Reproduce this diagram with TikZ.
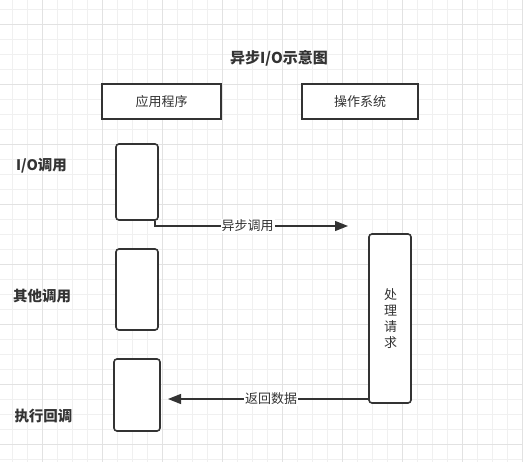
\documentclass[tikz,border=0pt]{standalone}
\usepackage{fontspec}
\newfontfamily\cjk{Noto Sans CJK SC}
\usetikzlibrary{arrows.meta}
\definecolor{ink}{HTML}{333333}
\definecolor{gridminor}{HTML}{F0F0F0}
\definecolor{gridmajor}{HTML}{E2E2E2}
\tikzset{
  px/.style={x=1pt,y=-1pt},
  header/.style={draw=ink,line width=1.6pt,fill=white,minimum width=119pt,minimum height=35pt,inner sep=0pt,font=\cjk\fontsize{13}{15}\selectfont,text=ink},
  lifebox/.style={draw=ink,line width=1.6pt,fill=white,rounded corners=3pt,inner sep=0pt},
  sidelabel/.style={font=\cjk\bfseries\fontsize{14.5}{16}\selectfont,text=ink,inner sep=0pt},
  msg/.style={draw=ink,line width=1.4pt,-{Triangle[length=13pt,width=10pt]}},
  msglabel/.style={fill=white,font=\cjk\fontsize{13}{15}\selectfont,text=ink,inner sep=1pt},
}
\begin{document}
\begin{tikzpicture}[px]
  \useasboundingbox (0,0) rectangle (523,462);
  \fill[white] (0,0) rectangle (523,462);
  % background grid: minor every 15, major every 60
  \foreach \gx in {12,27,...,522} \draw[gridminor,line width=0.8pt] (\gx,0) -- (\gx,462);
  \foreach \gy in {9,24,...,459} \draw[gridminor,line width=0.8pt] (0,\gy) -- (523,\gy);
  \foreach \gx in {42,102,...,522} \draw[gridmajor,line width=0.8pt] (\gx,0) -- (\gx,462);
  \foreach \gy in {24,84,...,444} \draw[gridmajor,line width=0.8pt] (0,\gy) -- (523,\gy);

  % title
  \node[font=\cjk\bfseries\fontsize{15}{17}\selectfont,text=ink] (title) at (279,58) {异步I/O示意图};

  % participants
  \node[header] (app) at (161.5,101.5) {应用程序};
  \node[header,minimum width=116pt] (os) at (360,101.5) {操作系统};

  % activation boxes on the application side
  \node[lifebox,minimum width=42pt,minimum height=76pt] (io) at (137,182) {};
  \node[lifebox,minimum width=42pt,minimum height=81pt] (other) at (137,289.5) {};
  \node[lifebox,minimum width=46pt,minimum height=72pt] (cb) at (137,395) {};

  % operating system processing box
  \node[lifebox,minimum width=42pt,minimum height=169pt] (proc) at (390,318.5) {};
  \node[font=\cjk\fontsize{13}{16}\selectfont,text=ink,align=center] (proctext) at (390.5,319) {处\\理\\请\\求};

  % side labels
  \node[sidelabel] (lio) at (41.5,165.5) {I/O调用};
  \node[sidelabel] (lother) at (42,296.5) {其他调用};
  \node[sidelabel] (lcb) at (43.5,416.5) {执行回调};

  % messages
  \coordinate (callend) at (348,226);
  \draw[msg] ([xshift=-4pt]io.south east) |- (callend)
    node[msglabel,pos=0.74] {异步调用};
  \coordinate (retend) at (168,399);
  \draw[msg] (proc.south west |- retend) -- (retend)
    node[msglabel,pos=0.485] {返回数据};
\end{tikzpicture}
\end{document}
